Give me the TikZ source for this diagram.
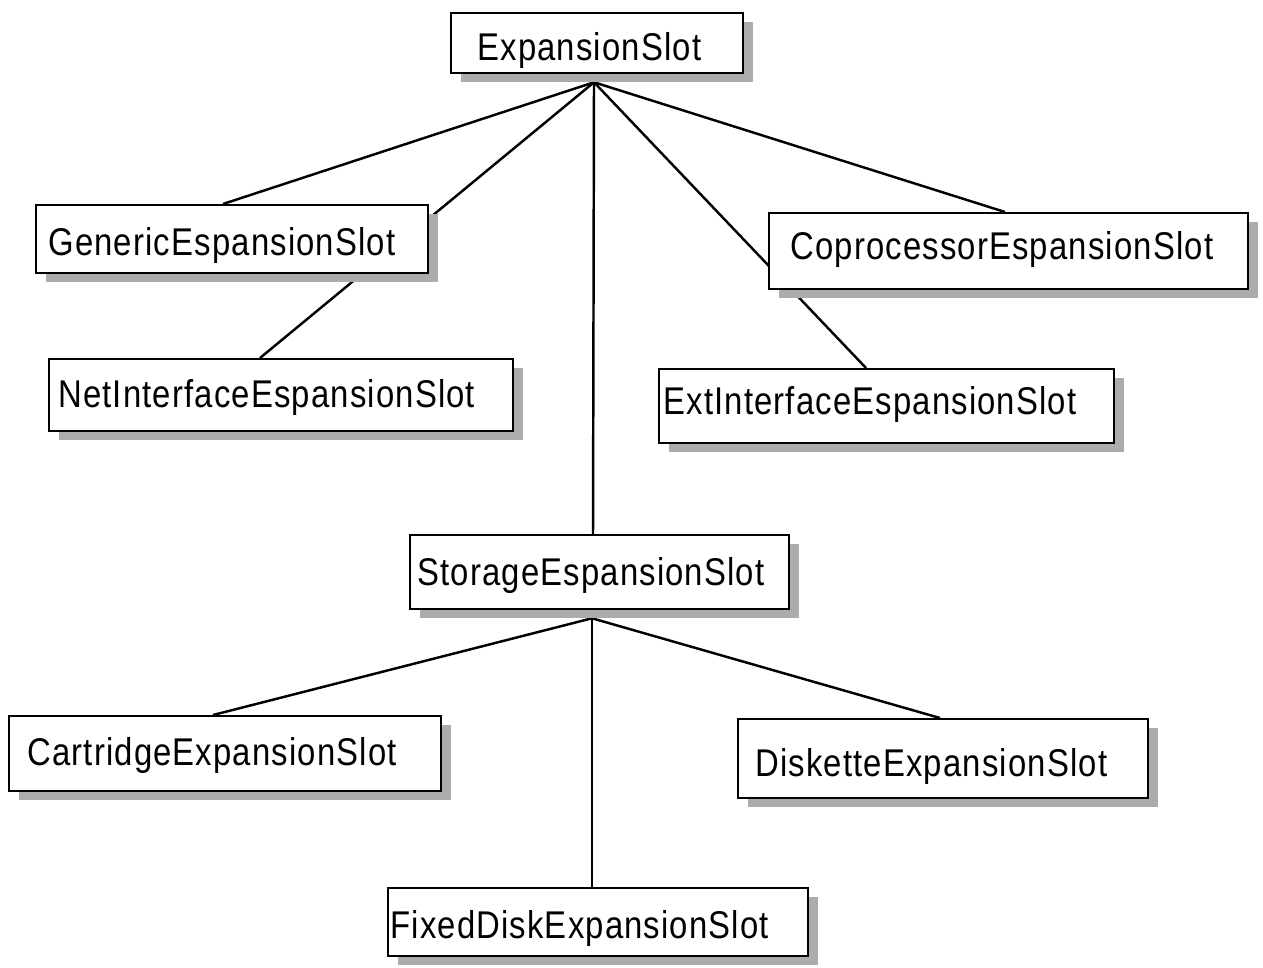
\documentclass[tikz,border=0pt]{standalone}
\usepackage{fontspec}
\setmainfont{Liberation Sans}[FakeStretch=0.85, LetterSpace=3]
\usetikzlibrary{calc,shadows}
\pgfdeclarelayer{background}
\pgfsetlayers{background,main}
\tikzset{
  classbox/.style={draw=black, line width=1.3pt, fill=white, rectangle, inner sep=0pt, anchor=north west,
    drop shadow={shadow xshift=0.2cm, shadow yshift=-0.18cm, fill=gray!65, opacity=1}},
  lbl/.style={inner sep=0pt, anchor=base west, font=\fontsize{22}{26}\selectfont},
  link/.style={draw=black, line width=1.4pt}
}
\begin{document}
\begin{tikzpicture}[x=0.02cm, y=-0.02cm]
\useasboundingbox (0,0) rectangle (1263,967);
% boxes
\node[classbox, minimum width=5.84cm, minimum height=1.2cm] (es) at (450,12) {};
\node[classbox, minimum width=7.84cm, minimum height=1.36cm] (gen) at (35,204) {};
\node[classbox, minimum width=9.28cm, minimum height=1.44cm] (net) at (48,358) {};
\node[classbox, minimum width=9.58cm, minimum height=1.52cm] (cop) at (768,212) {};
\node[classbox, minimum width=9.10cm, minimum height=1.48cm] (ext) at (658,368) {};
\node[classbox, minimum width=7.58cm, minimum height=1.48cm] (sto) at (409,534) {};
\node[classbox, minimum width=8.64cm, minimum height=1.50cm] (car) at (8,715) {};
\node[classbox, minimum width=8.20cm, minimum height=1.58cm] (dis) at (737,718) {};
\node[classbox, minimum width=8.40cm, minimum height=1.36cm] (fix) at (387,887) {};
% labels
\node[lbl] (tes) at (477,60) {ExpansionSlot};
\node[lbl] (tgen) at (48,255) {GenericEspansionSlot};
\node[lbl] (tnet) at (58,407) {NetInterfaceEspansionSlot};
\node[lbl] (tcop) at (790,259) {CoprocessorEspansionSlot};
\node[lbl] (text) at (663,414) {ExtInterfaceEspansionSlot};
\node[lbl] (tsto) at (417,585) {StorageEspansionSlot};
\node[lbl] (tcar) at (27,765) {CartridgeExpansionSlot};
\node[lbl] (tdis) at (755,776) {DisketteExpansionSlot};
\node[lbl] (tfix) at (390,938) {FixedDiskExpansionSlot};
% connectors
\coordinate (esb) at ($(es.south west)+(144,8)$);
\coordinate (stob) at ($(sto.south west)+(183,8)$);
\begin{pgfonlayer}{background}
\draw[link] (esb) -- ($(gen.north west)+(188,0)$);
\draw[link] (esb) -- ($(net.north west)+(212,0)$);
\draw[link] (esb) -- ($(sto.north west)+(184,0)$);
\draw[link] (esb) -- ($(ext.north west)+(208,0)$);
\draw[link] (esb) -- ($(cop.north west)+(237,0)$);
\draw[link] (stob) -- ($(car.north west)+(205,0)$);
\draw[link] (stob) -- ($(dis.north west)+(203,0)$);
\draw[link] (stob) -- ($(fix.north west)+(205,0)$);
\end{pgfonlayer}
\end{tikzpicture}
\end{document}
